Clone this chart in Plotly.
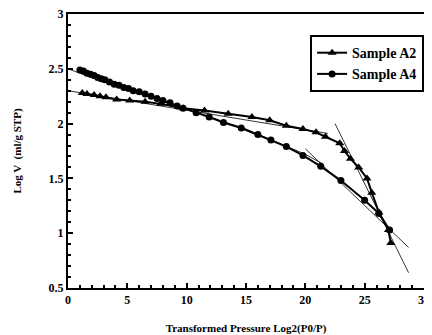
import plotly.graph_objects as go

# Sample A2 (triangles)
a2_x = [1.2, 1.6, 2.2, 2.7, 3.2, 4.1, 5.2, 6.5, 7.8, 9.7, 11.5, 13.5, 15.5, 17.0, 18.4,
        19.8, 20.9, 21.7, 22.9, 23.3, 23.8, 24.5, 25.2, 25.6, 26.2, 27.0, 27.2]
a2_y = [2.28, 2.27, 2.26, 2.25, 2.24, 2.22, 2.21, 2.20, 2.18, 2.14, 2.12, 2.09, 2.06, 2.03, 1.98,
        1.95, 1.92, 1.88, 1.82, 1.75, 1.68, 1.60, 1.50, 1.37, 1.19, 1.03, 0.91]

# Sample A4 (circles)
a4_x = [1.0, 1.3, 1.6, 1.9, 2.2, 2.5, 2.8, 3.1, 3.5, 3.9, 4.3, 4.7, 5.1, 5.5, 6.0, 6.5, 7.0,
        7.5, 8.0, 8.6, 9.2, 9.7, 10.8, 11.9, 13.1, 14.6, 16.0, 17.1, 18.4, 19.8, 21.3, 23.0,
        25.0, 26.2, 27.1]
a4_y = [2.49, 2.48, 2.46, 2.45, 2.44, 2.42, 2.41, 2.40, 2.38, 2.36, 2.35, 2.33, 2.32, 2.30, 2.29, 2.27, 2.25,
        2.23, 2.21, 2.19, 2.16, 2.14, 2.10, 2.06, 2.01, 1.96, 1.90, 1.85, 1.79, 1.71, 1.61, 1.48,
        1.30, 1.18, 1.03]

# Fit lines
a2_fit1_x = [0, 21.9]
a2_fit1_y = [2.30, 1.91]
a2_fit2_x = [22.5, 28.7]
a2_fit2_y = [2.00, 0.64]
a4_fit1_x = [0, 2, 5, 10, 15, 20, 21.5]
a4_fit1_y = [2.50, 2.42, 2.31, 2.13, 1.95, 1.72, 1.63]
a4_fit2_x = [20.0, 28.7]
a4_fit2_y = [1.77, 0.87]

fig = go.Figure()
thin = dict(color="black", width=0.8)
for fx, fy in [(a2_fit1_x, a2_fit1_y), (a2_fit2_x, a2_fit2_y),
               (a4_fit1_x, a4_fit1_y), (a4_fit2_x, a4_fit2_y)]:
    fig.add_trace(go.Scatter(x=fx, y=fy, mode="lines", line=thin, showlegend=False, hoverinfo="skip"))

fig.add_trace(go.Scatter(x=a2_x, y=a2_y, mode="lines+markers", name="Sample A2",
                         line=dict(color="black", width=2),
                         marker=dict(symbol="triangle-up", size=8, color="black")))
fig.add_trace(go.Scatter(x=a4_x, y=a4_y, mode="lines+markers", name="Sample A4",
                         line=dict(color="black", width=2),
                         marker=dict(symbol="circle", size=7, color="black")))

serif = "Liberation Serif, DejaVu Serif, serif"
axis_common = dict(showline=True, linecolor="black", linewidth=2, mirror=True,
                   ticks="inside", ticklen=5, tickcolor="black", tickwidth=1.5,
                   showgrid=False, zeroline=False, automargin=False,
                   ticklabeloverflow="allow",
                   tickfont=dict(family=serif, size=12, color="black", weight="bold"))

fig.update_xaxes(range=[0, 30], dtick=5,
                 minor=dict(ticks="inside", ticklen=3, dtick=1, tickcolor="black"),
                 title=dict(text="Transformed Pressure Log2(P0/P)",
                            font=dict(family=serif, size=11, color="black", weight="bold"),
                            standoff=19),
                 **axis_common)
fig.update_yaxes(range=[0.5, 3], dtick=0.5,
                 minor=dict(ticks="inside", ticklen=3, dtick=0.1, tickcolor="black"),
                 title=dict(text="Log V  (ml/g STP)",
                            font=dict(family=serif, size=11, color="black", weight="bold"),
                            standoff=25),
                 **axis_common)

# page body has an 8px margin, so the figure is sized/offset to compensate
fig.update_layout(
    width=424, height=327,
    margin=dict(l=60, r=8, t=6, b=47),
    plot_bgcolor="white", paper_bgcolor="white",
    font=dict(family=serif),
    legend=dict(x=0.68, y=0.923, xanchor="left", yanchor="top",
                bordercolor="black", borderwidth=2, bgcolor="white",
                font=dict(family=serif, size=14, color="black", weight="bold"),
                itemwidth=30, tracegroupgap=0),
)

fig.write_html("out.html")
